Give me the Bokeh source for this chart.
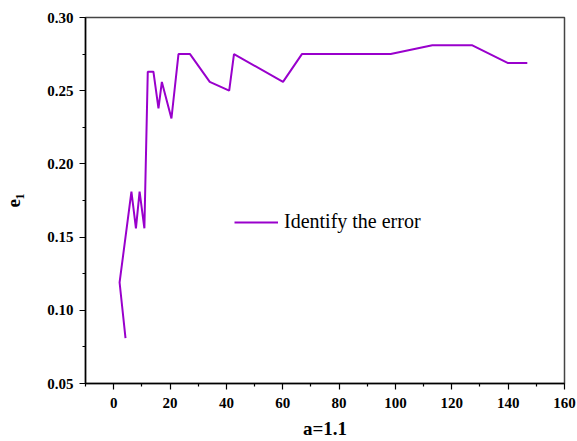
from bokeh.plotting import figure
from bokeh.models import Range1d, FixedTicker, Legend, LegendItem
from bokeh.embed import file_html
from bokeh.resources import INLINE

# data
x_vals = [4.2, 2.1, 6.3, 7.9, 9.2, 10.9, 12.1, 14.1, 15.9, 17.1, 20.5, 23.0, 27.1,
          34.1, 41.0, 42.7, 60.1, 66.8, 98.3, 113.1, 127.3, 139.8, 146.8]
y_vals = [0.081, 0.119, 0.181, 0.156, 0.181, 0.156, 0.263, 0.263, 0.238, 0.256,
          0.231, 0.275, 0.275, 0.256, 0.250, 0.275, 0.256, 0.275, 0.275, 0.281,
          0.281, 0.269, 0.269]
series_name = "Identify the error"
x_ticks = [0, 20, 40, 60, 80, 100, 120, 140, 160]
x_minor = [-10, 10, 30, 50, 70, 90, 110, 130, 150]
y_ticks = [0.05, 0.10, 0.15, 0.20, 0.25, 0.30]
y_tick_labels = ["0.05", "0.10", "0.15", "0.20", "0.25", "0.30"]
y_minor = [0.075, 0.125, 0.175, 0.225, 0.275]
x_label = "a=1.1"
y_label = "e\u2081"

FONT = "Liberation Serif"
COLOR = "#9900CC"

p = figure(width=577, height=441, output_backend="svg", toolbar_location=None,
           x_range=Range1d(-10, 160), y_range=Range1d(0.05, 0.30),
           min_border_left=85, min_border_right=13, min_border_top=17, min_border_bottom=58)

r = p.line(x_vals, y_vals, line_color=COLOR, line_width=2)

p.xgrid.visible = False
p.ygrid.visible = False
p.outline_line_color = "#444444"
p.outline_line_width = 1.5

p.xaxis.ticker = FixedTicker(ticks=x_ticks, minor_ticks=x_minor)
p.yaxis.ticker = FixedTicker(ticks=y_ticks, minor_ticks=y_minor)
p.yaxis.major_label_overrides = {t: l for t, l in zip(y_ticks, y_tick_labels)}

for ax in (p.xaxis[0], p.yaxis[0]):
    ax.axis_line_color = "black"
    ax.axis_line_width = 1.5
    ax.major_tick_line_color = "black"
    ax.minor_tick_line_color = "black"
    ax.major_tick_line_width = 1.2
    ax.minor_tick_line_width = 1.2
    ax.major_tick_in = 0
    ax.major_tick_out = 6
    ax.minor_tick_in = 0
    ax.minor_tick_out = 3
    ax.major_label_text_font = FONT
    ax.major_label_text_font_style = "bold"
    ax.major_label_text_font_size = "15px"
    ax.major_label_text_color = "black"
    ax.axis_label_text_font = FONT
    ax.axis_label_text_font_style = "bold"
    ax.axis_label_text_font_size = "19px"
    ax.axis_label_text_color = "black"

p.xaxis.axis_label = x_label
p.yaxis.axis_label = y_label
p.xaxis.major_label_standoff = 8
p.xaxis.axis_label_standoff = 7
p.yaxis.major_label_standoff = 6
p.yaxis.axis_label_standoff = 20

legend = Legend(items=[LegendItem(label=series_name, renderers=[r])],
                location=(149, 150), glyph_width=44, glyph_height=20,
                label_standoff=6, padding=0, margin=0, spacing=0,
                border_line_color=None, background_fill_alpha=0,
                label_text_font=FONT, label_text_font_size="20px",
                label_text_color="black")
p.add_layout(legend)

open("out.html", "w").write(file_html(p, INLINE))
